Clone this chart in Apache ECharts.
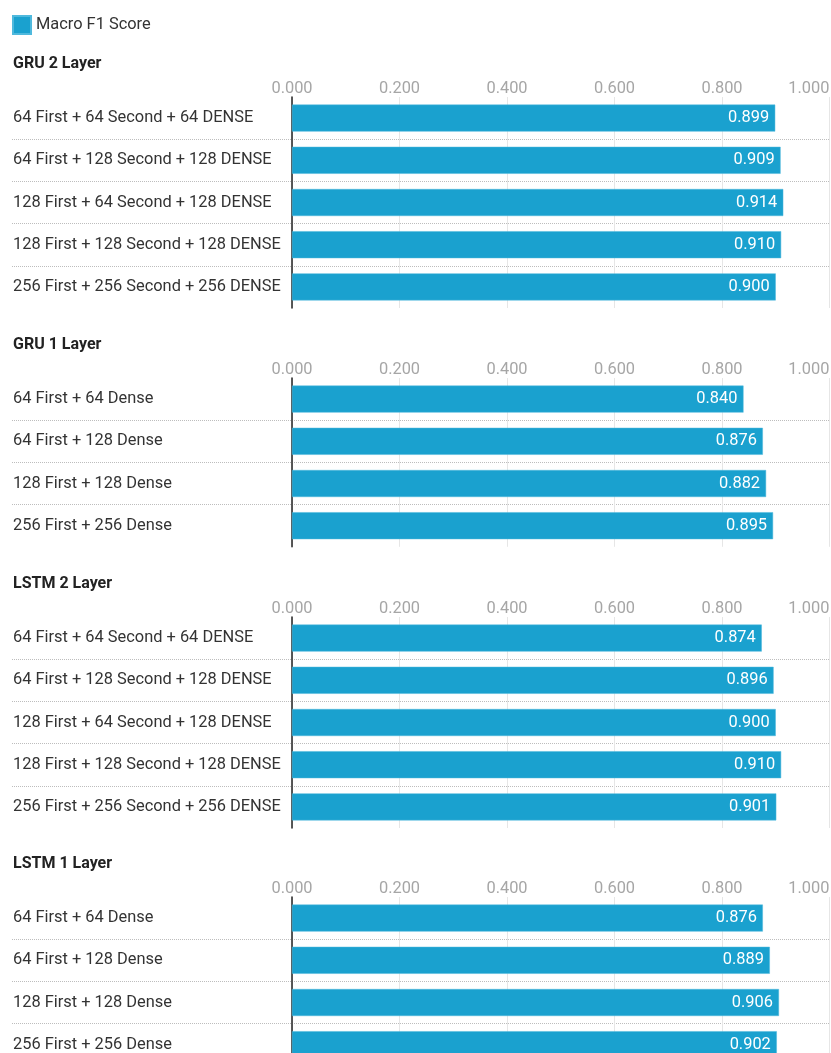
<!DOCTYPE html>
<html>
<head>
<meta charset="utf-8">
<title>Macro F1 Score</title>
<script src="https://cdn.jsdelivr.net/npm/echarts@6/dist/echarts.min.js"></script>
<style>
  html, body { margin: 0; padding: 0; background: #ffffff; }
  #chart { width: 831px; height: 1053px; }
</style>
</head>
<body>
<div id="chart"></div>
<script>
// Model groups and their Macro F1 scores
const groupTitles = ['GRU 2 Layer', 'GRU 1 Layer', 'LSTM 2 Layer', 'LSTM 1 Layer'];

const gru2Labels = [
  '64 First + 64 Second + 64 DENSE',
  '64 First + 128 Second + 128 DENSE',
  '128 First + 64 Second + 128 DENSE',
  '128 First + 128 Second + 128 DENSE',
  '256 First + 256 Second + 256 DENSE'
];
const gru2Scores = [0.899, 0.909, 0.914, 0.910, 0.900];

const gru1Labels = [
  '64 First + 64 Dense',
  '64 First + 128 Dense',
  '128 First + 128 Dense',
  '256 First + 256 Dense'
];
const gru1Scores = [0.840, 0.876, 0.882, 0.895];

const lstm2Labels = [
  '64 First + 64 Second + 64 DENSE',
  '64 First + 128 Second + 128 DENSE',
  '128 First + 64 Second + 128 DENSE',
  '128 First + 128 Second + 128 DENSE',
  '256 First + 256 Second + 256 DENSE'
];
const lstm2Scores = [0.874, 0.896, 0.900, 0.910, 0.901];

const lstm1Labels = [
  '64 First + 64 Dense',
  '64 First + 128 Dense',
  '128 First + 128 Dense',
  '256 First + 256 Dense'
];
const lstm1Scores = [0.876, 0.889, 0.906, 0.902];

const seriesName = 'Macro F1 Score';

const groups = [
  { labels: gru2Labels, scores: gru2Scores },
  { labels: gru1Labels, scores: gru1Scores },
  { labels: lstm2Labels, scores: lstm2Scores },
  { labels: lstm1Labels, scores: lstm1Scores }
];

// Layout
const FONT = 'Roboto, "Noto Sans", sans-serif';
const FS = 16.4;
const ROW_H = 42.2;
const LABEL_LEFT = 12;
const PLOT_LEFT = 292;
const PLOT_WIDTH = 537.5;
const TITLE_TOPS = [56, 337, 576, 856];
const GRID_TOPS = [97, 378, 617, 897];
const BAR_COLOR = '#1aa1cf';

const titles = [];
const grids = [];
const xAxes = [];
const yAxes = [];
const series = [];

groups.forEach((g, i) => {
  const h = g.labels.length * ROW_H;
  titles.push({
    text: groupTitles[i],
    left: 13,
    top: TITLE_TOPS[i],
    padding: 0,
    textStyle: { fontFamily: FONT, fontSize: 16, fontWeight: 'bold', color: '#222' }
  });

  // label column: only the dotted row separators
  grids.push({ left: LABEL_LEFT, top: GRID_TOPS[i], width: PLOT_LEFT - LABEL_LEFT, height: h,
    containLabel: false, outerBoundsMode: 'none' });
  xAxes.push({ gridIndex: 2 * i, type: 'value', show: false, min: 0, max: 1 });
  yAxes.push({
    gridIndex: 2 * i, type: 'category', data: g.labels, inverse: true,
    axisLine: { show: false }, axisTick: { show: false }, axisLabel: { show: false },
    splitLine: { show: true, showMinLine: false, showMaxLine: false,
      lineStyle: { type: 'dotted', color: '#bdbdbd', width: 1 } }
  });

  // plot area with bars
  grids.push({ left: PLOT_LEFT, top: GRID_TOPS[i], width: PLOT_WIDTH, height: h,
    containLabel: false, outerBoundsMode: 'none' });
  xAxes.push({
    gridIndex: 2 * i + 1, type: 'value', position: 'top', min: 0, max: 1, interval: 0.2,
    axisLine: { show: false }, axisTick: { show: false },
    axisLabel: {
      fontFamily: FONT, fontSize: FS, color: '#a6a6a6', margin: 0,
      alignMaxLabel: 'right',
      formatter: v => v.toFixed(3)
    },
    splitLine: { show: true, lineStyle: { color: '#e6e6e6', width: 1 } }
  });
  yAxes.push({
    gridIndex: 2 * i + 1, type: 'category', data: g.labels, inverse: true,
    axisLine: { show: true, lineStyle: { color: '#222', width: 1.5 } },
    axisTick: { show: false },
    axisLabel: { fontFamily: FONT, fontSize: FS, color: '#333', align: 'left', margin: PLOT_LEFT - LABEL_LEFT - 1 },
    splitLine: { show: true, showMinLine: false, showMaxLine: false,
      lineStyle: { type: 'dotted', color: '#bdbdbd', width: 1 } }
  });

  series.push({
    name: seriesName, type: 'bar',
    xAxisIndex: 2 * i + 1, yAxisIndex: 2 * i + 1,
    data: g.scores, barWidth: 27,
    itemStyle: { color: BAR_COLOR, borderColor: '#4fb9dd', borderWidth: 0.5 },
    label: {
      show: true, position: 'insideRight', distance: 6,
      fontFamily: FONT, fontSize: FS, color: '#ffffff',
      formatter: p => p.value.toFixed(3)
    },
    emphasis: { disabled: true },
    animation: false
  });
});

const chart = echarts.init(document.getElementById('chart'), null, { renderer: 'canvas' });
chart.setOption({
  backgroundColor: '#ffffff',
  animation: false,
  title: titles,
  legend: {
    left: 12, top: 15, itemWidth: 18, itemHeight: 18, itemGap: 6, padding: 0,
    icon: 'rect',
    data: [seriesName],
    textStyle: { fontFamily: FONT, fontSize: FS, color: '#333' }
  },
  grid: grids,
  xAxis: xAxes,
  yAxis: yAxes,
  series: series
});
</script>
</body>
</html>
